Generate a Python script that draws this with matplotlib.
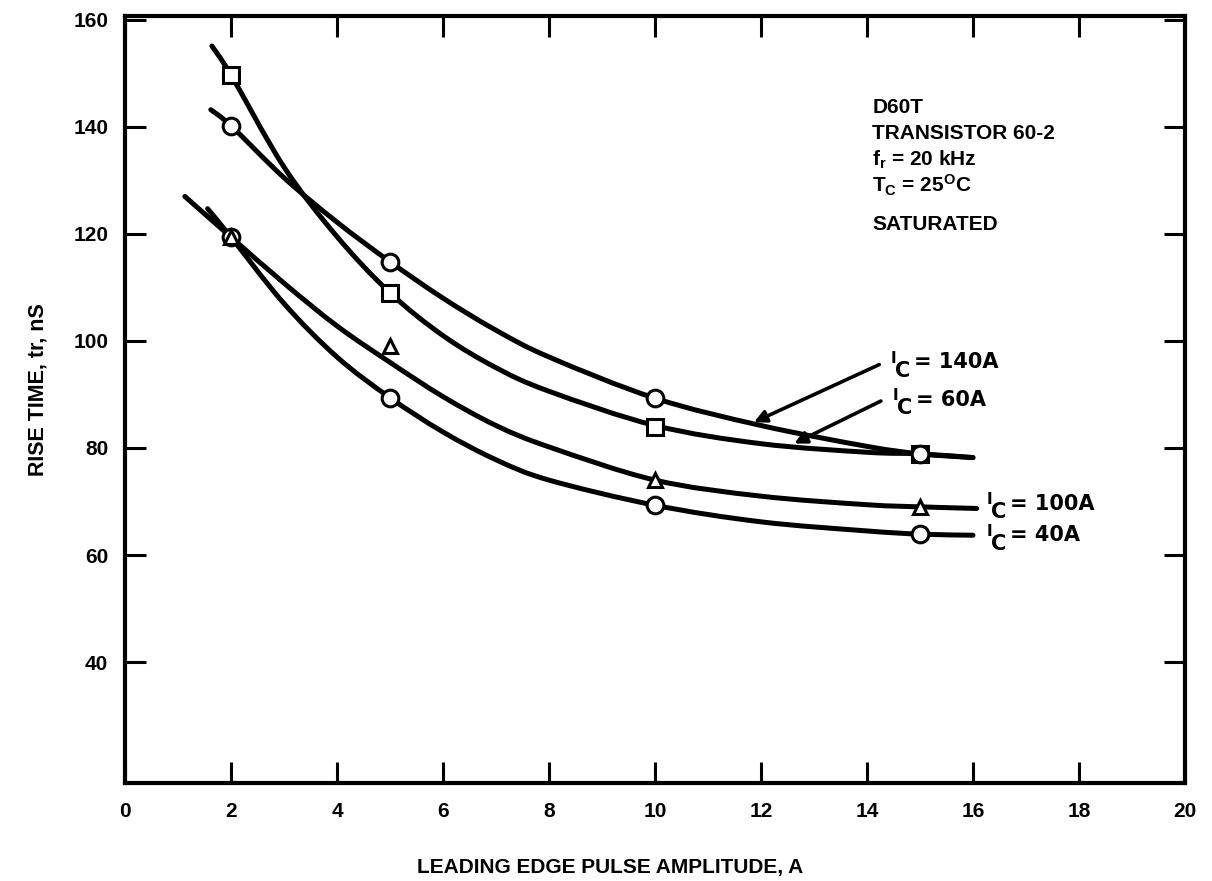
import numpy as np
import matplotlib
matplotlib.use("Agg")
import matplotlib.pyplot as plt
from matplotlib.path import Path
from matplotlib.patches import PathPatch

plt.rcParams['font.family'] = ['Liberation Sans', 'DejaVu Sans']
plt.rcParams['font.weight'] = 'bold'
plt.rcParams['mathtext.fontset'] = 'custom'
plt.rcParams['mathtext.rm'] = 'Liberation Sans:bold'
plt.rcParams['mathtext.it'] = 'Liberation Sans:bold'
plt.rcParams['mathtext.bf'] = 'Liberation Sans:bold'

# measured points, leading edge pulse amplitude (A)
amp = [2, 5, 10, 15]
rise_140 = [140.2, 114.8, 89.3, 78.9]
rise_60 = [149.7, 109.0, 84.0, 78.9]
rise_100 = [119.4, 99.1, 74.0, 69.0]
rise_40 = [119.4, 89.4, 69.3, 63.9]

# faired curves
fair_140_x = [1.62, 2, 3, 4, 5, 6, 7, 8, 10, 12, 14, 15, 16]
fair_140_y = [143.2, 140.2, 130.5, 122.2, 114.8, 108.0, 102.0, 97.0, 89.3, 84.2, 80.3, 78.9, 78.2]
fair_60_x = [1.64, 2, 3, 4, 5, 6, 7, 8, 10, 12, 14, 15, 16]
fair_60_y = [155.1, 149.7, 132.5, 119.5, 109.0, 101.0, 95.0, 90.6, 84.2, 80.8, 79.2, 78.9, 78.2]
fair_100_x = [1.13, 2, 3, 4, 5, 6, 7, 8, 10, 12, 14, 15, 16.07]
fair_100_y = [127.0, 119.4, 110.8, 102.8, 96.0, 89.6, 84.2, 80.2, 74.0, 71.0, 69.4, 69.0, 68.7]
fair_40_x = [1.56, 2, 3, 4, 5, 6, 7, 8, 10, 12, 14, 15, 16]
fair_40_y = [124.7, 119.4, 107.0, 97.0, 89.4, 83.0, 77.8, 74.0, 69.3, 66.2, 64.5, 63.9, 63.7]

x_ticks = [0, 2, 4, 6, 8, 10, 12, 14, 16, 18, 20]
y_ticks = [40, 60, 80, 100, 120, 140, 160]

notes = ['D60T', 'TRANSISTOR 60-2', 'f$_\\mathrm{r}$ = 20 kHz',
         'T$_\\mathrm{C}$ = 25$^\\mathrm{O}$C', 'SATURATED']
note_y = [143.7, 138.7, 133.8, 129.0, 121.7]


def faired(xs, ys):
    # smooth cubic path through the read points (Catmull-Rom control points)
    p = np.column_stack([xs, ys])
    verts = [p[0]]
    codes = [Path.MOVETO]
    n = len(p)
    for i in range(n - 1):
        p0 = p[max(i - 1, 0)]
        p1 = p[i]
        p2 = p[i + 1]
        p3 = p[min(i + 2, n - 1)]
        verts += [p1 + (p2 - p0) / 6, p2 - (p3 - p1) / 6, p2]
        codes += [Path.CURVE4] * 3
    return Path(verts, codes)


def curve_label(x, y, value):
    # "I" with a full-size, dropped "C", then the current value
    kw = dict(fontsize=15, fontweight='bold', family='DejaVu Sans',
              va='center', ha='left')
    ax.annotate('I', (x, y), xytext=(0, 3), textcoords='offset points', fontsize=11,
                fontweight='bold', family='DejaVu Sans', va='center', ha='left')
    ax.annotate('C', (x, y), xytext=(3, -6), textcoords='offset points', **kw)
    ax.annotate('= ' + value, (x, y), xytext=(17, 0), textcoords='offset points', **kw)


fig = plt.figure(figsize=(12.12, 8.81), dpi=100)
ax = fig.add_axes([0.1031, 0.1112, 0.8746, 0.8706])

for xs, ys in [(fair_140_x, fair_140_y), (fair_60_x, fair_60_y),
               (fair_100_x, fair_100_y), (fair_40_x, fair_40_y)]:
    ax.add_patch(PathPatch(faired(xs, ys), facecolor='none', edgecolor='black',
                           lw=3.6, capstyle='round', zorder=2))

mk = dict(ls='none', mfc='white', mec='black', mew=2.2)
ax.plot(amp, rise_60, marker='s', ms=11, zorder=3, **mk)
ax.plot(amp, rise_140, marker='o', ms=12, zorder=4, **mk)
ax.plot(amp, rise_40, marker='o', ms=12, zorder=4, **mk)
ax.plot(amp, rise_100, marker='^', ms=10, zorder=5, **mk)

# leader lines to the two upper curves
arrow = dict(arrowstyle='-|>', color='black', lw=2.6, mutation_scale=18)
ax.annotate('', xy=(11.82, 84.6), xytext=(14.28, 95.8), arrowprops=arrow)
ax.annotate('', xy=(12.58, 80.6), xytext=(14.31, 89.0), arrowprops=arrow)

curve_label(14.45, 96.0, '140A')
curve_label(14.48, 89.0, '60A')
curve_label(16.26, 69.6, '100A')
curve_label(16.26, 63.7, '40A')

for s, yy in zip(notes, note_y):
    ax.text(14.1, yy, s, fontsize=15, fontweight='bold', va='center', ha='left')

ax.set_xlim(0, 20)
ax.set_ylim(17.4, 160.7)
ax.set_xticks(x_ticks)
ax.set_yticks(y_ticks)
ax.tick_params(direction='in', length=15, width=2.2, labelsize=15,
               top=True, right=True)
ax.tick_params(axis='x', pad=14)
ax.tick_params(axis='y', pad=12)
for t in ax.get_xticklabels() + ax.get_yticklabels():
    t.set_fontweight('bold')
for sp in ax.spines.values():
    sp.set_linewidth(3)

fig.text(610 / 1212, 1 - 867 / 881, 'LEADING EDGE PULSE AMPLITUDE, A',
         fontsize=15, fontweight='bold', ha='center', va='center')
fig.text(38 / 1212, 1 - 390 / 881, 'RISE TIME, tr, nS', rotation=90,
         fontsize=15.5, fontweight='bold', ha='center', va='center')

fig.savefig('out.png', dpi=100)
